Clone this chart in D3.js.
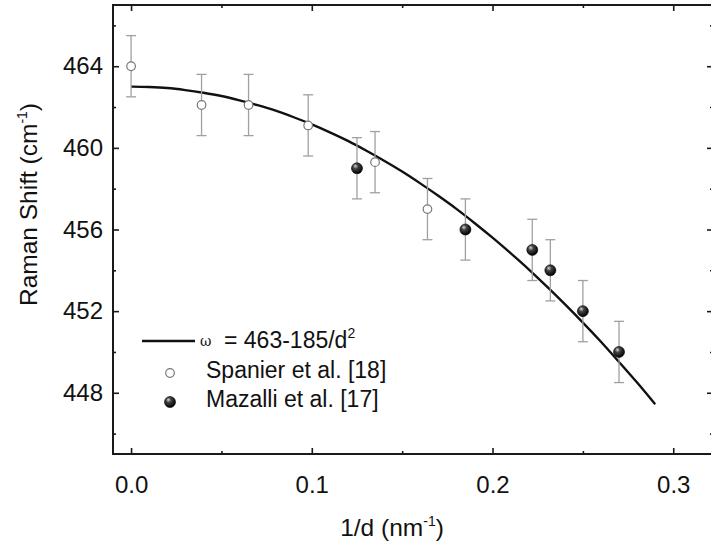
<!DOCTYPE html>
<html><head><meta charset="utf-8">
<script src="https://cdn.jsdelivr.net/npm/d3@7"></script>
<style>
html,body{margin:0;padding:0;background:#fff;}
svg{display:block;font-family:"Liberation Sans",Arial,sans-serif;}
</style></head>
<body><svg id="chart" width="711" height="545"></svg>
<script>
// ---- data ----
const spanierX = [0.000, 0.039, 0.065, 0.098, 0.135, 0.164];
const spanierY = [464.0, 462.1, 462.1, 461.1, 459.3, 457.0];
const spanierErr = [1.5, 1.5, 1.5, 1.5, 1.5, 1.5];
const mazalliX = [0.125, 0.185, 0.222, 0.232, 0.250, 0.270];
const mazalliY = [459.0, 456.0, 455.0, 454.0, 452.0, 450.0];
const mazalliErr = [1.5, 1.5, 1.5, 1.5, 1.5, 1.5];
const fitX = [0.00,0.01,0.02,0.03,0.04,0.05,0.06,0.07,0.08,0.09,0.10,0.11,0.12,0.13,0.14,0.15,0.16,0.17,0.18,0.19,0.20,0.21,0.22,0.23,0.24,0.25,0.26,0.27,0.28,0.29];
const fitY = [463.00,462.98,462.93,462.83,462.70,462.54,462.33,462.09,461.82,461.50,461.15,460.76,460.34,459.87,459.37,458.84,458.26,457.65,457.01,456.32,455.60,454.84,454.05,453.21,452.34,451.44,450.50,449.51,448.50,447.44];
const xTicks = [0.0, 0.1, 0.2, 0.3];
const xMinor = [0.05, 0.15, 0.25];
const yTicks = [448, 452, 456, 460, 464];
const yMinor = [446, 450, 454, 458, 462, 466];
const legendLabels = ["= 463-185/d", "Spanier et al. [18]", "Mazalli et al. [17]"];

// ---- layout ----
const L = 113, T = 5, R = 713, B = 454;
const svg = d3.select("#chart");
const x = d3.scaleLinear().domain([-0.01, 0.322]).range([L, R]);
const y = d3.scaleLinear().domain([445, 467]).range([B, T]);

const defs = svg.append("defs");
const grad = defs.append("radialGradient").attr("id", "ball")
  .attr("cx", "40%").attr("cy", "35%").attr("r", "65%").attr("fx", "35%").attr("fy", "30%");
grad.append("stop").attr("offset", "0%").attr("stop-color", "#d8d8d8");
grad.append("stop").attr("offset", "35%").attr("stop-color", "#444");
grad.append("stop").attr("offset", "100%").attr("stop-color", "#000");

const fontSize = 24;
const titleSize = 24.5;
const axisColor = "#1a1a1a";

function styleAxis(g) {
  g.select(".domain").remove();
  g.selectAll(".tick line").attr("stroke", axisColor).attr("stroke-width", 1.6);
  g.selectAll(".tick text").attr("fill", "#111").attr("font-size", fontSize)
    .attr("font-family", '"Liberation Sans",Arial,sans-serif');
}

// bottom
const gB = svg.append("g").attr("transform", `translate(0,${B})`);
gB.call(d3.axisBottom(x).tickValues(xTicks).tickFormat(d3.format(".1f")).tickSizeInner(-6).tickSizeOuter(0).tickPadding(22));
styleAxis(gB);
gB.selectAll(".tick text").attr("dy", "0.71em");
svg.append("g").attr("transform", `translate(0,${B})`)
  .call(d3.axisBottom(x).tickValues(xMinor).tickFormat("").tickSizeInner(-3).tickSizeOuter(0)).call(styleAxis);
// top
svg.append("g").attr("transform", `translate(0,${T})`)
  .call(d3.axisTop(x).tickValues(xTicks).tickFormat("").tickSizeInner(-6).tickSizeOuter(0)).call(styleAxis);
svg.append("g").attr("transform", `translate(0,${T})`)
  .call(d3.axisTop(x).tickValues(xMinor).tickFormat("").tickSizeInner(-3).tickSizeOuter(0)).call(styleAxis);
// left
const gL = svg.append("g").attr("transform", `translate(${L},0)`);
gL.call(d3.axisLeft(y).tickValues(yTicks).tickFormat(d3.format("d")).tickSizeInner(-6).tickSizeOuter(0).tickPadding(10));
styleAxis(gL);
svg.append("g").attr("transform", `translate(${L},0)`)
  .call(d3.axisLeft(y).tickValues(yMinor).tickFormat("").tickSizeInner(-3).tickSizeOuter(0)).call(styleAxis);
// right
svg.append("g").attr("transform", `translate(${R},0)`)
  .call(d3.axisRight(y).tickValues(yTicks).tickFormat("").tickSizeInner(-6).tickSizeOuter(0)).call(styleAxis);
svg.append("g").attr("transform", `translate(${R},0)`)
  .call(d3.axisRight(y).tickValues(yMinor).tickFormat("").tickSizeInner(-3).tickSizeOuter(0)).call(styleAxis);

// frame
svg.append("rect").attr("x", L).attr("y", T).attr("width", R - L).attr("height", B - T)
  .attr("fill", "none").attr("stroke", axisColor).attr("stroke-width", 2);

// axis titles
const xt = svg.append("text").attr("x", 392).attr("y", 536)
  .attr("text-anchor", "middle").attr("font-size", titleSize).attr("fill", "#111");
xt.append("tspan").text("1/d (nm");
xt.append("tspan").attr("font-size", 14).attr("dy", -10).text("-1");
xt.append("tspan").attr("dy", 10).text(")");

const yt = svg.append("text").attr("transform", `translate(37,${(T + B) / 2 - 25}) rotate(-90)`)
  .attr("text-anchor", "middle").attr("font-size", titleSize).attr("fill", "#111");
yt.append("tspan").text("Raman Shift (cm");
yt.append("tspan").attr("font-size", 14).attr("dy", -10).text("-1");
yt.append("tspan").attr("dy", 10).text(")");

// fit curve
const fitData = fitX.map((v, i) => [v, fitY[i]]);
svg.append("path").datum(fitData)
  .attr("d", d3.line().x(d => x(d[0])).y(d => y(d[1])).curve(d3.curveMonotoneX))
  .attr("fill", "none").attr("stroke", "#111").attr("stroke-width", 2.4);

// error bars
function errorBars(xs, ys, es) {
  const g = svg.append("g").attr("stroke", "#a0a0a0").attr("stroke-width", 1.3);
  xs.forEach((xv, i) => {
    const cx = x(xv), y1 = y(ys[i] + es[i]), y2 = y(ys[i] - es[i]);
    g.append("line").attr("x1", cx).attr("x2", cx).attr("y1", y1).attr("y2", y2);
    g.append("line").attr("x1", cx - 5).attr("x2", cx + 5).attr("y1", y1).attr("y2", y1);
    g.append("line").attr("x1", cx - 5).attr("x2", cx + 5).attr("y1", y2).attr("y2", y2);
  });
}
errorBars(spanierX, spanierY, spanierErr);
errorBars(mazalliX, mazalliY, mazalliErr);

svg.append("g").selectAll("circle").data(spanierX).join("circle")
  .attr("cx", d => x(d)).attr("cy", (d, i) => y(spanierY[i])).attr("r", 4.3)
  .attr("fill", "#fff").attr("stroke", "#777").attr("stroke-width", 1.2);
svg.append("g").selectAll("circle").data(mazalliX).join("circle")
  .attr("cx", d => x(d)).attr("cy", (d, i) => y(mazalliY[i])).attr("r", 5.5)
  .attr("fill", "url(#ball)").attr("stroke", "#000").attr("stroke-width", 0.6);

// legend
const lg = svg.append("g");
lg.append("line").attr("x1", 142).attr("x2", 195).attr("y1", 341).attr("y2", 341)
  .attr("stroke", "#111").attr("stroke-width", 2.4);
lg.append("text").attr("x", 200).attr("y", 346).attr("font-size", 14).attr("fill", "#111")
  .attr("font-family", '"DejaVu Serif",serif').text("ω");
const t0 = lg.append("text").attr("x", 224).attr("y", 348).attr("font-size", 23).attr("fill", "#111");
t0.append("tspan").text(legendLabels[0]);
t0.append("tspan").attr("font-size", 14).attr("dy", -10).text("2");
lg.append("circle").attr("cx", 170).attr("cy", 373).attr("r", 4.3)
  .attr("fill", "#fff").attr("stroke", "#777").attr("stroke-width", 1.2);
lg.append("text").attr("x", 206).attr("y", 378).attr("font-size", 23).attr("fill", "#111").text(legendLabels[1]);
lg.append("circle").attr("cx", 170).attr("cy", 402).attr("r", 5.5)
  .attr("fill", "url(#ball)").attr("stroke", "#000").attr("stroke-width", 0.6);
lg.append("text").attr("x", 206).attr("y", 407).attr("font-size", 23).attr("fill", "#111").text(legendLabels[2]);
</script>
</body></html>
